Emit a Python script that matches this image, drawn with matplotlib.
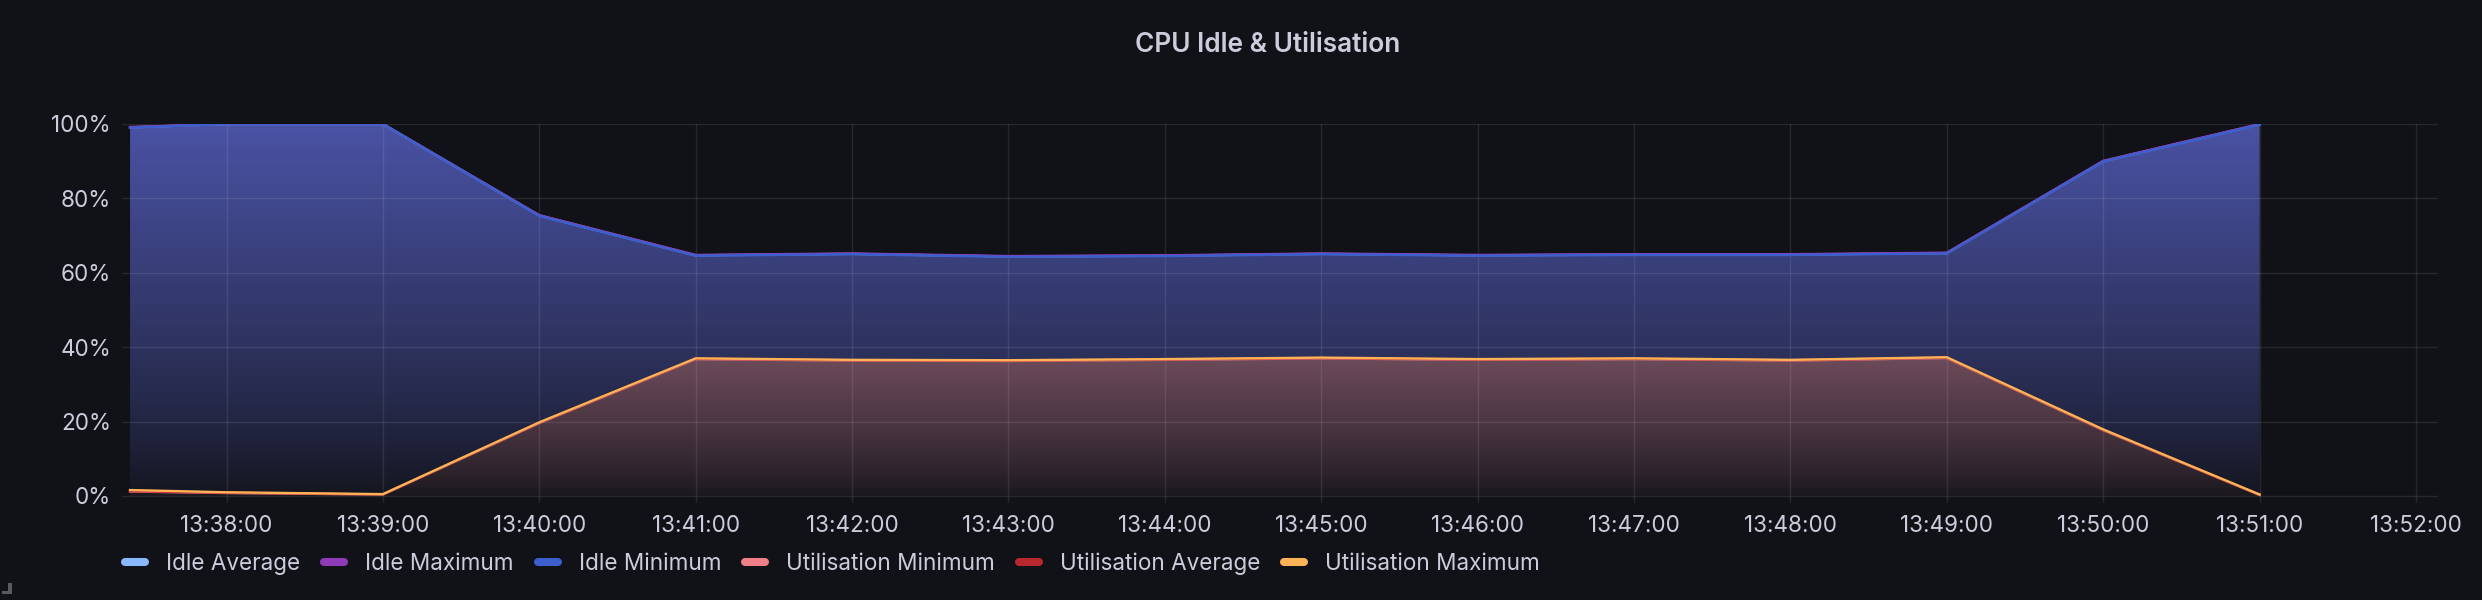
import numpy as np
import pandas as pd
import matplotlib
matplotlib.use("Agg")
import matplotlib.pyplot as plt
import matplotlib.dates as mdates
from matplotlib.lines import Line2D
from matplotlib.patches import Polygon, Rectangle

# data (percent)
times = ["13:37:23", "13:38:00", "13:39:00", "13:40:00", "13:41:00", "13:42:00", "13:43:00",
         "13:44:00", "13:45:00", "13:46:00", "13:47:00", "13:48:00", "13:49:00", "13:50:00",
         "13:51:00"]
idle_avg = [99.1, 100.0, 100.0, 75.4, 64.7, 65.1, 64.4, 64.6, 65.1, 64.7, 64.9, 64.9, 65.3, 90.0, 99.9]
idle_max = [99.2, 100.0, 100.0, 75.5, 64.8, 65.2, 64.5, 64.7, 65.2, 64.8, 65.0, 65.0, 65.4, 90.1, 100.0]
idle_min = [99.0, 100.0, 100.0, 75.3, 64.6, 65.0, 64.3, 64.5, 65.0, 64.6, 64.8, 64.8, 65.2, 89.9, 99.8]
util_min = [1.2, 0.8, 0.4, 19.6, 36.8, 36.4, 36.3, 36.6, 37.0, 36.6, 36.8, 36.4, 37.1, 17.7, 0.3]
util_avg = [1.3, 0.9, 0.4, 19.7, 36.9, 36.5, 36.4, 36.7, 37.1, 36.7, 36.9, 36.5, 37.2, 17.8, 0.3]
util_max = [1.6, 1.0, 0.5, 19.8, 37.0, 36.6, 36.5, 36.8, 37.2, 36.8, 37.0, 36.6, 37.3, 17.9, 0.4]

BG = "#111217"
TXT = "#ccccdc"
FS = 16.2
plt.rcParams["font.family"] = ["Inter", "DejaVu Sans"]

W, H = 2482, 600
fig = plt.figure(figsize=(W / 100, H / 100), dpi=100, facecolor=BG)
ax = fig.add_axes([122 / W, 1 - 503 / H, (2438 - 122) / W, (503 - 124) / H])
ax.set_facecolor(BG)

x = mdates.date2num(pd.to_datetime(["2024-01-01 " + t for t in times]))
one_min = 1 / 1440
t38 = mdates.date2num(pd.Timestamp("2024-01-01 13:38:00"))
t52 = mdates.date2num(pd.Timestamp("2024-01-01 13:52:00"))
px_per_min = (2416 - 226.5) / 14
x0 = t38 - (226.5 - 122) / px_per_min * one_min
x1 = t52 + (2438 - 2416) / px_per_min * one_min
ybot = -7 * 100 / 372
ax.set_xlim(x0, x1)
ax.set_ylim(ybot, 100)


def gradient_fill(vals, top_rgb):
    ys = np.linspace(ybot, 100, 400)
    v = np.clip(ys / 100, 0, 1)
    a = 0.04 + 0.92 * v ** 0.8
    bg = np.array([17, 18, 23]) / 255
    c = np.array(top_rgb) / 255
    img = bg + a[:, None] * (c - bg)
    img = img[:, None, :]
    verts = list(zip(x, vals)) + [(x[-1], 0), (x[0], 0)]
    poly = Polygon(verts, closed=True, facecolor="none", edgecolor="none")
    ax.add_patch(poly)
    im = ax.imshow(img, extent=[x0, x1, ybot, 100], origin="lower", aspect="auto",
                   interpolation="bilinear", zorder=1)
    im.set_clip_path(poly)


gradient_fill(idle_min, (76, 85, 170))
gradient_fill(util_max, (217, 141, 170))

series = [
    ("Idle Average", idle_avg, "#8ab8ff"),
    ("Idle Maximum", idle_max, "#8f3bb8"),
    ("Idle Minimum", idle_min, "#3b5fcd"),
    ("Utilisation Minimum", util_min, "#f08088"),
    ("Utilisation Average", util_avg, "#b8292f"),
    ("Utilisation Maximum", util_max, "#ffb357"),
]
for name, vals, col in series:
    ax.plot(x, vals, color=col, lw=1.7, zorder=3, solid_joinstyle="round")

ax.set_axisbelow(False)
ax.grid(True, color="white", alpha=0.09, lw=1.0)
ax.xaxis.set_major_locator(mdates.MinuteLocator(interval=1))
ax.xaxis.set_major_formatter(mdates.DateFormatter("%H:%M:%S"))
ax.set_yticks([0, 20, 40, 60, 80, 100])
ax.set_yticklabels([f"{v}%" for v in [0, 20, 40, 60, 80, 100]])
ax.tick_params(axis="both", length=0, colors=TXT, labelsize=FS)
ax.tick_params(axis="y", pad=8)
ax.tick_params(axis="x", pad=9)
for s in ax.spines.values():
    s.set_visible(False)

fig.text(1268 / W, 1 - 52 / H, "CPU Idle & Utilisation", ha="center", va="baseline",
         color=TXT, fontsize=18.9, fontweight="semibold")

# legend: rounded bars like the grafana legend
em = FS * 100 / 72
handles = [Line2D([], [], color=col, lw=5.8, solid_capstyle="round", label=name)
           for name, _, col in series]
fig.legend(handles=handles, loc="center left", bbox_to_anchor=(125 / W, 1 - 564 / H),
           ncol=6, frameon=False, fontsize=FS, handlelength=20 / em,
           handletextpad=21 / em, columnspacing=24 / em, borderpad=0, borderaxespad=0,
           labelcolor=TXT)

# panel resize handle in the corner
fig.patches.append(Rectangle((8 / W, 1 - 593 / H), 4 / W, 10 / H, transform=fig.transFigure,
                             facecolor="#5a5a5e", edgecolor="none"))
fig.patches.append(Rectangle((2 / W, 1 - 594 / H), 10 / W, 3 / H, transform=fig.transFigure,
                             facecolor="#5a5a5e", edgecolor="none"))

fig.savefig("out.png", dpi=100, facecolor=BG)
